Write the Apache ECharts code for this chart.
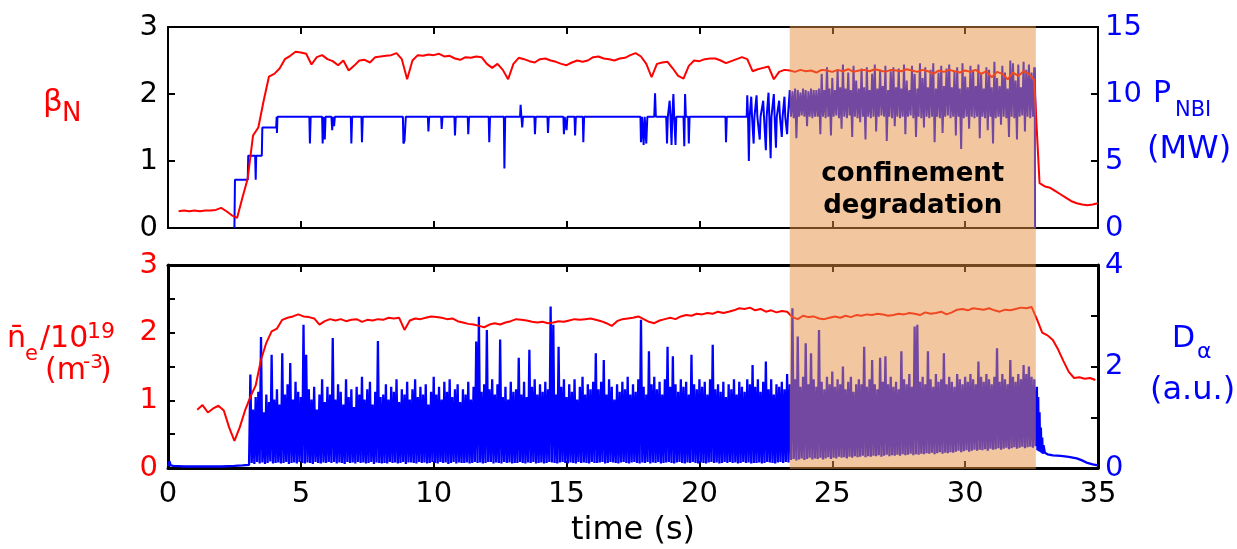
<!DOCTYPE html>
<html><head><meta charset="utf-8">
<script src="https://cdn.jsdelivr.net/npm/echarts@6/dist/echarts.min.js"></script>
<style>html,body{margin:0;padding:0;background:#fff}#c{width:1237px;height:549px}</style>
</head><body><div id="c"></div>
<script>
// ---------------- data ----------------
const timeTicks = [0, 5, 10, 15, 20, 25, 30, 35];
const betaTicks = [0, 1, 2, 3];
const pnbiTicks = [0, 5, 10, 15];
const neTicks = [0, 1, 2, 3];
const daTicks = [0, 2, 4];
const shadeWindow = [23.4, 32.66];

// beta_N, sampled every 0.2 s from 0.4 s
const betaT0 = 0.4, betaDt = 0.2;
const betaN = [
 0.25,0.26,0.25,0.26,0.25,0.26,0.26,0.27,0.30,0.25,
 0.19,0.15,0.45,0.74,1.38,1.50,1.90,2.26,2.30,2.38,
 2.52,2.57,2.63,2.62,2.60,2.44,2.55,2.58,2.52,2.49,
 2.43,2.50,2.35,2.42,2.50,2.51,2.47,2.55,2.56,2.57,
 2.58,2.61,2.52,2.22,2.50,2.58,2.57,2.59,2.58,2.60,
 2.56,2.57,2.53,2.51,2.55,2.54,2.56,2.55,2.45,2.39,
 2.45,2.36,2.22,2.45,2.54,2.52,2.49,2.47,2.52,2.53,
 2.50,2.48,2.45,2.43,2.47,2.50,2.48,2.50,2.55,2.56,
 2.53,2.52,2.50,2.53,2.54,2.58,2.61,2.56,2.45,2.25,
 2.45,2.47,2.48,2.38,2.27,2.23,2.42,2.50,2.49,2.52,
 2.53,2.53,2.50,2.46,2.49,2.52,2.55,2.52,2.34,2.37,
 2.39,2.41,2.22,2.33,2.36,2.35,2.33,2.36,2.34,2.35,
 2.32,2.36,2.35,2.33,2.36,2.34,2.37,2.33,2.35,2.36,
 2.34,2.37,2.35,2.33,2.36,2.35,2.34,2.37,2.35,2.33,
 2.36,2.34,2.30,2.35,2.33,2.36,2.34,2.32,2.35,2.33,
 2.36,2.30,2.34,2.25,2.33,2.30,2.22,2.32,2.27,2.34,
 2.30,2.21,0.67,0.62,0.60,0.55,0.50,0.45,0.40,0.37,
 0.35,0.34,0.35,0.37
];

// line-averaged density /1e19, sampled every 0.2 s from 1.1 s
const neT0 = 1.1, neDt = 0.2;
const neBar = [
 0.86,0.93,0.82,0.88,0.92,0.85,0.60,0.40,0.60,0.85,
 1.05,1.22,1.60,1.85,2.02,2.06,2.19,2.22,2.24,2.27,
 2.24,2.23,2.21,2.12,2.17,2.20,2.18,2.20,2.17,2.19,
 2.20,2.16,2.19,2.18,2.20,2.19,2.22,2.21,2.22,2.04,
 2.18,2.21,2.20,2.22,2.24,2.23,2.22,2.20,2.21,2.17,
 2.15,2.13,2.12,2.10,2.08,2.12,2.14,2.12,2.15,2.17,
 2.20,2.19,2.18,2.16,2.15,2.16,2.14,2.15,2.17,2.16,
 2.18,2.20,2.19,2.20,2.21,2.19,2.17,2.14,2.10,2.17,
 2.20,2.21,2.22,2.24,2.20,2.16,2.14,2.18,2.20,2.22,
 2.20,2.24,2.26,2.25,2.28,2.27,2.29,2.28,2.31,2.29,
 2.31,2.33,2.36,2.35,2.37,2.33,2.35,2.31,2.33,2.30,
 2.32,2.31,2.23,2.20,2.25,2.23,2.24,2.21,2.20,2.22,
 2.24,2.22,2.25,2.23,2.26,2.25,2.27,2.26,2.28,2.27,
 2.25,2.26,2.28,2.27,2.29,2.28,2.26,2.30,2.28,2.29,
 2.31,2.27,2.30,2.34,2.35,2.33,2.36,2.35,2.34,2.36,
 2.33,2.31,2.34,2.33,2.35,2.37,2.36,2.38,2.20,2.00,
 1.96,1.89,1.75,1.58,1.42,1.33,1.34,1.32,1.33,1.30
];

// P_NBI (MW): steps and notches before the degradation phase, [t, MW]
const pnbiSteps = [
 [2.5,0],[2.52,3.6],[3.0,3.6],[3.02,5.4],[3.28,5.4],[3.3,3.6],[3.32,5.4],[3.53,5.4],[3.55,7.5],[4.07,7.5],
 [4.09,8.3],[4.1,7.1],[4.12,8.3],[5.32,8.3],[5.34,6.3],[5.37,8.3],[5.8,8.3],[5.82,6.3],[5.85,8.3],[5.9,6.6],
 [5.93,8.3],[6.15,8.3],[6.18,7.3],[6.2,8.3],[6.25,7.6],[6.28,8.3],[6.88,8.3],[6.9,6.3],[6.93,8.3],[7.28,8.3],
 [7.3,6.4],[7.33,8.3],[8.84,8.3],[8.86,6.3],[8.9,6.5],[8.95,8.3],[9.78,8.3],[9.8,7.2],[9.83,8.3],[10.28,8.3],
 [10.3,7.4],[10.33,8.3],[10.78,8.3],[10.8,6.9],[10.83,8.3],[11.28,8.3],[11.3,7.0],[11.33,8.3],[12.07,8.3],[12.09,6.4],
 [12.12,8.3],[12.64,8.3],[12.66,4.45],[12.69,8.3],[13.25,8.3],[13.27,9.2],[13.3,8.3],[13.33,7.5],[13.36,8.3],[13.79,8.3],
 [13.81,7.0],[13.84,8.3],[14.28,8.3],[14.3,7.1],[14.33,8.3],[14.88,8.3],[14.9,7.0],[14.93,8.3],[15.0,7.3],[15.03,8.3],
 [15.3,8.3],[15.32,6.9],[15.35,8.3],[15.61,8.3],[15.63,6.4],[15.66,8.3],[17.78,8.3],[17.8,6.4],[17.84,8.3],[17.9,6.2],
 [17.94,8.3],[18.0,6.3],[18.04,8.3],[18.3,8.3],[18.33,10.05],[18.36,8.3],[18.75,8.3],[18.78,6.3],[18.81,8.3],[18.88,9.5],
 [18.91,8.3],[18.95,6.2],[18.98,8.3],[19.02,10.0],[19.05,8.3],[19.1,6.2],[19.13,8.3],[19.4,8.3],[19.43,6.1],[19.46,10.0],
 [19.49,8.3],[19.58,8.3],[19.6,6.3],[19.63,8.3],[20.98,8.3],[21.0,6.4],[21.03,8.3],[21.78,8.3],[21.8,9.9],[21.83,8.3],
 [21.86,5.0],[21.89,8.3],[21.95,9.8],[21.98,8.3],[22.04,6.3],[22.07,8.3],[22.15,9.9],[22.18,8.3],[22.27,6.6],[22.3,8.3],
 [22.4,9.5],[22.43,8.3],[22.5,5.8],[22.53,8.3],[22.6,10.1],[22.63,8.3],[22.68,5.2],[22.71,8.3],[22.8,10.0],[22.83,8.3],
 [22.88,6.0],[22.91,8.3],[23.0,9.5],[23.03,8.3],[23.1,6.8],[23.13,8.3],[23.2,9.8],[23.23,8.3],[23.3,7.0],[23.33,8.3]
];
// P_NBI during degradation: highs at t0+i*dt, lows half a step later
const pnbiOscT0 = 23.4, pnbiOscDt = 0.1;
const pnbiHigh = [
 10.3,10.2,10.4,10.3,10.1,10.4,10.3,10.2,10.4,10.3,
 10.3,10.4,11.5,10.3,12.0,10.4,11.2,10.3,11.8,10.5,
 12.2,10.4,11.6,10.3,12.1,11.0,10.4,11.9,10.5,12.0,
 10.3,11.5,12.2,10.4,11.8,10.6,12.1,10.3,11.7,12.0,
 10.5,11.9,10.4,12.2,11.0,10.3,12.1,11.5,10.4,12.3,
 11.2,12.0,10.5,11.8,12.3,10.4,11.6,12.1,10.6,11.9,
 12.2,10.5,11.7,12.0,10.4,12.3,11.3,10.5,12.1,11.8,
 10.6,12.2,11.5,10.4,12.0,11.8,10.5,12.4,11.2,10.6,
 12.1,11.6,10.4,12.5,12.3,11.0,12.2,10.5,12.4,11.8,
 12.2,11.6,12.0
];
const pnbiLow = [
 8.3,8.2,6.7,8.3,8.4,8.3,7.6,8.3,8.2,8.3,
 8.3,7.0,8.3,8.2,8.3,6.9,8.3,8.4,8.2,7.4,
 8.3,8.2,8.4,6.8,8.3,8.2,7.9,8.3,6.6,8.3,
 8.2,8.3,7.2,8.3,8.4,8.3,6.5,8.3,8.2,7.6,
 8.3,8.2,8.3,7.0,8.3,8.4,8.2,6.8,8.3,8.2,
 7.5,8.3,8.2,8.3,6.4,8.3,8.2,7.1,8.3,8.4,
 8.2,8.3,6.9,8.3,5.9,8.2,8.3,7.4,8.3,8.2,
 8.3,6.7,8.3,8.2,7.3,8.3,6.3,8.2,8.3,7.7,
 8.3,8.2,6.8,8.3,8.2,6.6,8.3,8.4,7.2,8.3,
 8.2,8.3,8.0
];
const pnbiEnd = [[32.62,12.0],[32.63,0]];

// D-alpha (a.u.)
const daBefore = [[0,0.04],[0.06,0.13],[0.1,0.05],[0.2,0.04],[0.6,0.03],[1.0,0.03],[1.5,0.03],[2.0,0.03],[2.5,0.04],[2.8,0.05],[3.05,0.06]];
const daT0 = 3.1, daDt = 0.1;
const daPeak = [
 1.84,1.15,1.4,1.5,2.58,1.1,1.45,1.3,2.23,1.35,
 1.55,1.25,2.26,1.45,1.65,2.07,1.35,1.7,1.5,1.4,
 2.82,2.23,1.55,1.35,1.6,1.15,1.45,1.75,1.3,1.6,
 1.45,2.56,1.35,1.65,1.5,1.25,1.75,1.4,1.55,1.2,
 1.6,1.45,1.8,1.35,1.55,1.7,1.25,1.5,2.5,1.4,
 1.45,1.65,1.35,1.6,1.5,1.75,1.3,1.55,1.45,1.7,
 1.35,1.55,1.75,1.4,1.6,1.45,1.65,1.25,1.5,1.8,
 1.45,1.6,1.35,1.7,1.5,1.75,1.4,1.55,1.65,1.3,
 1.55,1.45,1.7,1.35,1.6,2.49,2.98,1.5,1.65,2.72,
 1.55,1.75,1.45,1.65,2.53,1.4,1.6,1.35,1.7,1.5,
 1.55,2.17,1.45,1.7,1.4,2.33,1.6,1.75,1.45,1.65,
 1.5,1.7,1.55,3.18,2.82,1.45,2.39,1.6,1.75,1.4,
 1.65,1.5,1.75,1.35,1.6,1.8,1.45,1.65,1.55,1.7,
 2.26,1.55,1.7,2.13,1.45,1.75,1.6,1.35,1.65,1.5,
 1.7,1.55,1.8,1.45,1.65,1.5,1.75,2.92,1.6,1.45,
 2.3,1.65,1.8,1.55,1.7,1.45,1.75,2.39,1.6,2.2,
 1.65,1.5,1.75,1.6,1.7,1.45,2.23,1.65,1.55,1.75,
 1.6,1.7,1.45,1.75,2.43,1.55,1.65,1.5,1.7,1.4,
 1.65,1.55,1.75,1.45,1.7,1.6,1.5,1.75,1.65,2.03,
 1.6,1.75,1.5,1.7,2.1,1.55,1.75,1.45,1.65,1.6,
 1.7,1.55,1.85,1.65,3.15,1.75,2.59,1.6,1.8,2.46,
 1.65,2.26,1.75,1.6,2.72,1.7,1.55,1.8,1.65,1.9,
 1.6,1.75,1.65,2.0,1.55,1.7,1.8,1.5,1.65,1.75,
 1.65,2.39,1.6,1.75,2.13,1.65,1.55,2.17,1.7,2.2,
 1.65,1.8,1.6,1.7,1.55,2.3,1.75,1.65,1.85,1.6,
 2.79,2.82,1.7,1.8,1.65,2.3,1.75,1.6,1.85,1.7,
 1.75,2.26,1.65,1.8,1.7,1.6,1.85,1.75,1.65,1.8,
 1.7,1.85,1.75,1.65,2.1,1.8,1.7,1.85,1.75,1.65,
 1.8,2.36,1.7,1.85,1.75,1.65,2.13,1.8,1.7,1.85,
 1.75,2.03,1.85,2.0,1.8,1.75
];
const daLow = [
 0.1,0.08,0.12,0.09,0.11,0.08,0.1,0.13,0.09,0.1,
 0.11,0.09,0.1,0.12,0.08,0.1,0.11,0.09,0.12,0.1,
 0.09,0.11,0.1,0.08,0.12,0.1,0.09,0.11,0.1,0.12,
 0.1,0.12,0.09,0.11,0.1,0.08,0.12,0.1,0.11,0.09,
 0.12,0.1,0.11,0.09,0.1,0.12,0.08,0.11,0.1,0.09,
 0.1,0.09,0.12,0.1,0.11,0.09,0.1,0.12,0.08,0.11,
 0.11,0.1,0.09,0.12,0.1,0.11,0.09,0.1,0.12,0.1,
 0.09,0.12,0.1,0.11,0.08,0.1,0.12,0.09,0.11,0.1,
 0.1,0.11,0.09,0.1,0.12,0.1,0.11,0.09,0.1,0.12,
 0.12,0.09,0.11,0.1,0.09,0.12,0.1,0.11,0.09,0.1,
 0.1,0.12,0.1,0.09,0.11,0.1,0.12,0.09,0.1,0.11,
 0.09,0.1,0.12,0.11,0.1,0.09,0.11,0.12,0.1,0.09,
 0.11,0.1,0.09,0.12,0.1,0.11,0.1,0.09,0.12,0.1,
 0.1,0.11,0.12,0.09,0.1,0.12,0.11,0.1,0.09,0.11,
 0.12,0.1,0.09,0.11,0.12,0.1,0.09,0.11,0.1,0.12,
 0.09,0.11,0.1,0.12,0.09,0.1,0.11,0.12,0.1,0.09,
 0.11,0.12,0.1,0.09,0.11,0.1,0.12,0.1,0.09,0.11,
 0.1,0.09,0.11,0.12,0.1,0.11,0.09,0.1,0.12,0.1,
 0.12,0.1,0.11,0.09,0.1,0.12,0.1,0.11,0.09,0.1,
 0.1,0.11,0.09,0.1,0.12,0.11,0.1,0.09,0.11,0.12,
 0.1,0.12,0.11,
 0.16,0.18,0.15,0.17,0.19,0.16,0.18,0.2,0.17,0.19,
 0.18,0.2,0.17,0.19,0.21,0.18,0.2,0.19,0.22,0.2,
 0.21,0.19,0.22,0.2,0.23,0.21,0.22,0.24,0.21,0.23,
 0.22,0.24,0.23,0.25,0.22,0.24,0.26,0.23,0.25,0.24,
 0.26,0.24,0.27,0.25,0.26,0.28,0.25,0.27,0.26,0.28,
 0.27,0.29,0.28,0.3,0.27,0.29,0.31,0.28,0.3,0.29,
 0.31,0.3,0.32,0.34,0.31,0.33,0.35,0.32,0.34,0.36,
 0.34,0.36,0.35,0.37,0.34,0.38,0.36,0.37,0.39,0.36,
 0.38,0.4,0.37,0.39,0.41,0.38,0.4,0.42,0.39,0.41,
 0.42,0.4,0.43
];
const daAfter = [[32.7,1.6],[32.72,0.35],[32.75,1.4],[32.77,0.33],[32.8,1.1],[32.82,0.32],[32.85,0.8],[32.87,0.3],[32.9,0.6],[32.92,0.28],[32.95,0.45],[33.0,0.3],[33.1,0.27],[33.3,0.25],[33.6,0.24],[33.9,0.22],[34.2,0.19],[34.4,0.15],[34.6,0.1],[34.8,0.07],[35.0,0.05]];

// ---------------- build ----------------
const r2 = v => Math.round(v * 1000) / 1000;
const betaData = betaN.map((v, i) => [r2(betaT0 + i * betaDt), v]);
const neData = neBar.map((v, i) => [r2(neT0 + i * neDt), v]);
const pnbiData = pnbiSteps.slice();
pnbiHigh.forEach((v, i) => {
  pnbiData.push([r2(pnbiOscT0 + i * pnbiOscDt), v]);
  pnbiData.push([r2(pnbiOscT0 + (i + 0.5) * pnbiOscDt), pnbiLow[i]]);
});
pnbiEnd.forEach(p => pnbiData.push(p));
const daData = daBefore.slice();
daPeak.forEach((v, i) => {
  daData.push([r2(daT0 + i * daDt), v]);
  daData.push([r2(daT0 + (i + 0.5) * daDt), daLow[i]]);
});
daAfter.forEach(p => daData.push(p));

const FONT = '"DejaVu Sans", "Liberation Sans", sans-serif';
const RED = '#ff0000', BLUE = '#0000ff';

function xAx(grid, pos, w, labels) {
  return {
    type: 'value', gridIndex: grid, position: pos,
    min: timeTicks[0], max: timeTicks[timeTicks.length - 1], interval: timeTicks[1] - timeTicks[0],
    axisLine: { show: true, onZero: false, lineStyle: { color: '#000', width: w } },
    axisTick: { show: true, inside: true, length: 7, lineStyle: { color: '#000', width: 2 } },
    axisLabel: { show: labels, fontSize: 29, color: '#000', margin: 12, fontFamily: FONT },
    splitLine: { show: false }
  };
}
function yAx(grid, pos, ticks, w, color, minor) {
  return {
    type: 'value', gridIndex: grid, position: pos,
    min: ticks[0], max: ticks[ticks.length - 1], interval: ticks[1] - ticks[0],
    axisLine: { show: true, onZero: false, lineStyle: { color: '#000', width: w } },
    axisTick: { show: true, inside: true, length: 7, lineStyle: { color: '#000', width: 2 } },
    minorTick: { show: !!minor, splitNumber: 2, length: 7, lineStyle: { color: '#000', width: 2 } },
    axisLabel: { show: true, fontSize: 29, color: color, margin: pos === 'left' ? 10 : 7, fontFamily: FONT },
    splitLine: { show: false }
  };
}

const chart = echarts.init(document.getElementById('c'), null, { renderer: 'canvas' });
const xBottom = xAx(1, 'bottom', 3, true);
xBottom.name = 'time (s)';
xBottom.nameLocation = 'middle';
xBottom.nameGap = 47;
xBottom.nameTextStyle = { fontSize: 32, color: '#000', fontFamily: FONT };

chart.setOption({
  animation: false,
  backgroundColor: '#ffffff',
  textStyle: { fontFamily: FONT },
  grid: [
    { left: 168, top: 27, width: 930, height: 201, outerBoundsMode: 'none', containLabel: false },
    { left: 168, top: 265, width: 930, height: 203, outerBoundsMode: 'none', containLabel: false }
  ],
  xAxis: [xAx(0, 'bottom', 2, false), xAx(0, 'top', 2, false), xBottom, xAx(1, 'top', 3, false)],
  yAxis: [
    yAx(0, 'left', betaTicks, 2, '#000', false),
    yAx(0, 'right', pnbiTicks, 2, BLUE, false),
    yAx(1, 'left', neTicks, 3, RED, true),
    yAx(1, 'right', daTicks, 3, BLUE, true)
  ],
  series: [
    { name: 'PNBI', type: 'line', xAxisIndex: 0, yAxisIndex: 1, data: pnbiData, symbol: 'none', lineStyle: { color: BLUE, width: 2 }, z: 2 },
    { name: 'betaN', type: 'line', xAxisIndex: 0, yAxisIndex: 0, data: betaData, symbol: 'none', lineStyle: { color: RED, width: 2 }, z: 3 },
    { name: 'Dalpha', type: 'line', xAxisIndex: 2, yAxisIndex: 3, data: daData, symbol: 'none', lineStyle: { color: BLUE, width: 2.3 }, z: 2 },
    { name: 'ne', type: 'line', xAxisIndex: 2, yAxisIndex: 2, data: neData, symbol: 'none', lineStyle: { color: RED, width: 2 }, z: 3 }
  ]
});

// shaded "confinement degradation" window, placed through the axes
const sx0 = chart.convertToPixel({ xAxisIndex: 0 }, shadeWindow[0]);
const sx1 = chart.convertToPixel({ xAxisIndex: 0 }, shadeWindow[1]);
const syTop = chart.convertToPixel({ yAxisIndex: 0 }, betaTicks[betaTicks.length - 1]) - 1;
const syBot = chart.convertToPixel({ yAxisIndex: 2 }, neTicks[0]) + 1;
const cx = (sx0 + sx1) / 2;

function txt(s, x, baseline, size, color, weight, align) {
  return {
    type: 'text', z: 20, x: x, y: baseline - 0.35 * size,
    style: { text: s, fill: color, font: (weight || 'normal') + ' ' + size + 'px ' + FONT,
             textAlign: align || 'left', textVerticalAlign: 'middle' }
  };
}

chart.setOption({
  graphic: [
    { type: 'rect', z: 10, shape: { x: sx0, y: syTop, width: sx1 - sx0, height: syBot - syTop },
      style: { fill: 'rgba(229,143,65,0.5)' } },
    txt('confinement', cx, 183, 26, '#000', 'bold', 'center'),
    txt('degradation', cx, 215, 26, '#000', 'bold', 'center'),
    // left labels
    txt('β', 43, 114, 31, RED),
    txt('N', 62, 123, 26, RED),
    txt('n\u0304', 7, 350, 30, RED),
    txt('e', 25, 362, 21, RED),
    txt('/10', 40, 350, 30, RED),
    txt('19', 87, 340, 22, RED),
    txt('(m', 45, 382, 30, RED),
    txt('-3', 83, 370, 20, RED),
    txt(')', 100, 382, 30, RED),
    // right labels
    txt('P', 1153, 105, 30, BLUE),
    txt('NBI', 1175, 118, 21, BLUE),
    txt('(MW)', 1147, 161, 32, BLUE),
    txt('D', 1172, 350, 30, BLUE),
    txt('α', 1197, 360, 22, BLUE),
    txt('(a.u.)', 1150, 402, 32, BLUE)
  ]
});
</script>
</body></html>
